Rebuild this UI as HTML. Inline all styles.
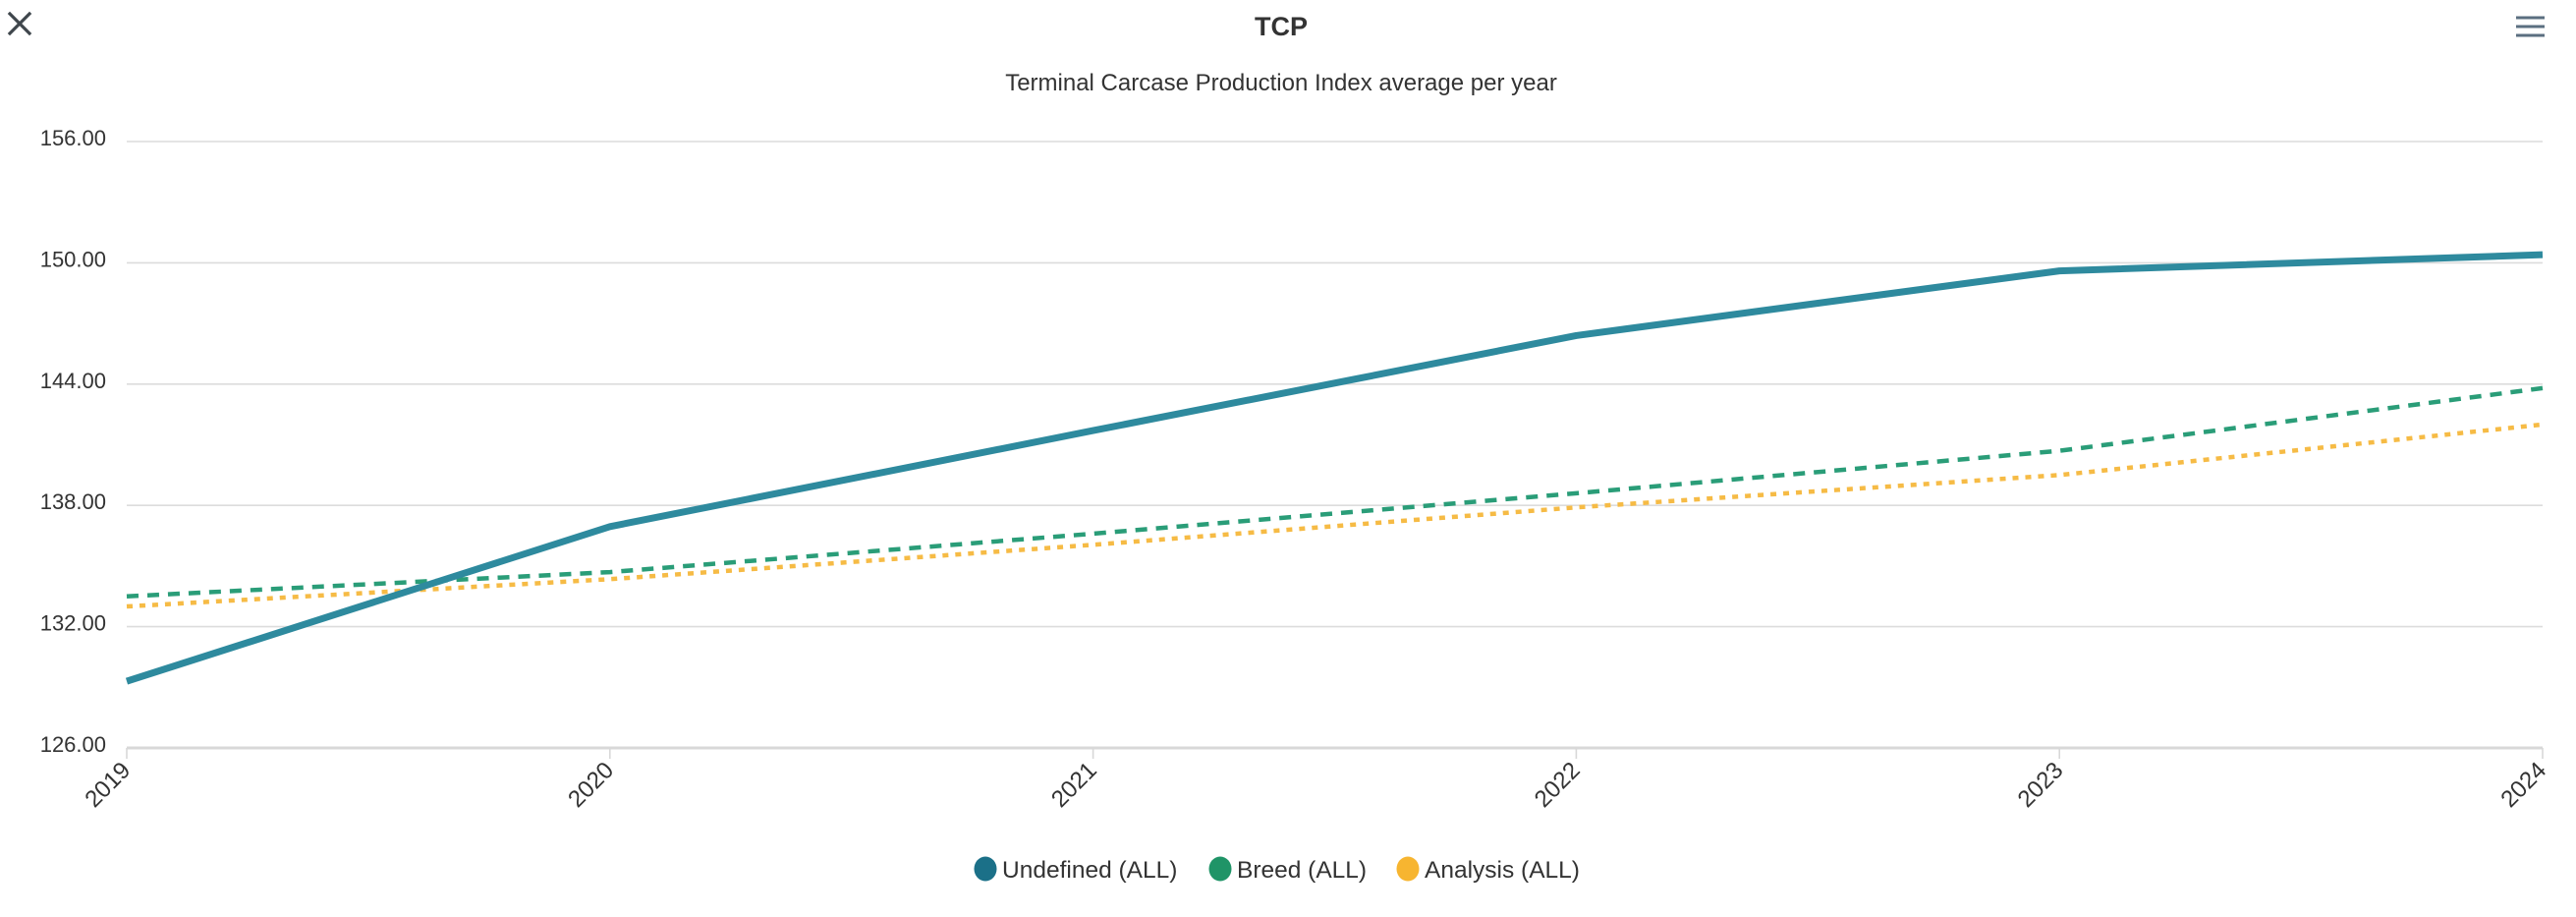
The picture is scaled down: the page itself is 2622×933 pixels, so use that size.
<!DOCTYPE html>
<html>
<head>
<meta charset="utf-8">
<style>
  html,body{margin:0;padding:0;background:#fff;}
  body{width:2622px;height:928px;overflow:hidden;font-family:"Liberation Sans",sans-serif;}
  svg text{font-family:"Liberation Sans",sans-serif;}
</style>
</head>
<body>
<svg id="chart" width="2622" height="928" viewBox="0 0 2622 928" xmlns="http://www.w3.org/2000/svg">
  <g stroke="#3f464c" stroke-width="3.2" stroke-linecap="square">
    <line x1="10" y1="14" x2="30" y2="34"/>
    <line x1="30" y1="14" x2="10" y2="34"/>
  </g>
  <g stroke="#5b6f80" stroke-width="3">
    <line x1="2561" y1="18" x2="2590" y2="18"/>
    <line x1="2561" y1="27" x2="2590" y2="27"/>
    <line x1="2561" y1="36" x2="2590" y2="36"/>
  </g>
  <text x="1304" y="36" text-anchor="middle" font-size="27" font-weight="bold" fill="#333">TCP</text>
  <text x="1304" y="92" text-anchor="middle" font-size="24" fill="#333">Terminal Carcase Production Index average per year</text>
  <g id="grid"></g>
  <g id="yticks"></g>
  <g id="xaxis"></g>
  <g id="series"></g>
  <g font-size="24.5" fill="#333">
    <g>
      <ellipse cx="1003" cy="884" rx="11.5" ry="12.5" fill="#1b7088"/>
      <text x="1020" y="893">Undefined (ALL)</text>
    </g>
    <g>
      <ellipse cx="1242" cy="884" rx="11.5" ry="12.5" fill="#1f9467"/>
      <text x="1259" y="893">Breed (ALL)</text>
    </g>
    <g>
      <ellipse cx="1433" cy="884" rx="11.5" ry="12.5" fill="#f7b530"/>
      <text x="1450" y="893">Analysis (ALL)</text>
    </g>
  </g>
</svg>
<script>
const categories = ["2019","2020","2021","2022","2023","2024"];
const undefinedValues = [129.3, 136.95, 141.7, 146.4, 149.6, 150.4];
const breedValues = [133.5, 134.7, 136.6, 138.6, 140.7, 143.8];
const analysisValues = [133.0, 134.35, 136.05, 137.9, 139.5, 142.0];
const yTicks = [126, 132, 138, 144, 150, 156];
const yTickLabels = ["126.00","132.00","138.00","144.00","150.00","156.00"];

const NS = "http://www.w3.org/2000/svg";
const plotLeft = 129, plotRight = 2588, plotTop = 144, plotBottom = 761;
const yMin = 126, yMax = 156;
function xScale(i){ return plotLeft + (plotRight-plotLeft) * i / (categories.length-1); }
function yScale(v){ return plotBottom - (v - yMin) / (yMax - yMin) * (plotBottom - plotTop); }
function mk(tag, attrs){ const e=document.createElementNS(NS,tag); for(const k in attrs) e.setAttribute(k,attrs[k]); return e; }

const grid = document.getElementById('grid');
const yt = document.getElementById('yticks');
yTicks.forEach((v,i)=>{
  const y = yScale(v);
  const l = mk('line',{x1:plotLeft,x2:plotRight,y1:y,y2:y,stroke:i===0?'#d8d8d8':'#dcdcdc','stroke-width':i===0?3:1.6});
  
  
  grid.appendChild(l);
  const t = mk('text',{x:108,y:y+4,'text-anchor':'end','font-size':22,fill:'#333'});
  t.textContent = yTickLabels[i];
  
  
  yt.appendChild(t);
});

const xa = document.getElementById('xaxis');
categories.forEach((c,i)=>{
  const x = xScale(i);
  const tk = mk('line',{x1:x,x2:x,y1:plotBottom,y2:plotBottom+11,stroke:'#d8d8d8','stroke-width':1.6});
  
  
  xa.appendChild(tk);
  const t = mk('text',{x:x+5,y:plotBottom+24,'text-anchor':'end','font-size':24,fill:'#333',transform:`rotate(-45 ${x+5} ${plotBottom+24})`});
  t.textContent = c;
  
  
  xa.appendChild(t);
});

const ser = document.getElementById('series');
function drawLine(vals, color, width, dash, name){
  const pts = vals.map((v,i)=>xScale(i)+','+yScale(v)).join(' ');
  const p = mk('polyline',{points:pts,fill:'none',stroke:color,'stroke-width':width,'stroke-linejoin':'round'});
  if(dash) p.setAttribute('stroke-dasharray',dash);
  
  
  ser.appendChild(p);
}
drawLine(analysisValues,'#f6bb45',4.5,'6 7','series-analysis');
drawLine(breedValues,'#2a9d78',4.5,'12 9','series-breed');
drawLine(undefinedValues,'#2e8a9e',7,null,'series-undefined');
</script>
</body>
</html>
